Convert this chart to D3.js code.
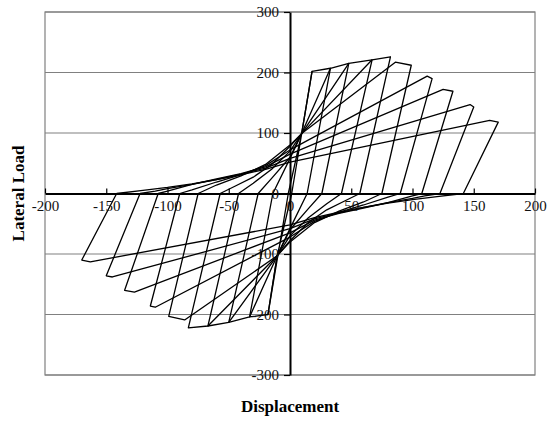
<!DOCTYPE html>
<html>
<head>
<meta charset="utf-8">
<script src="https://cdn.jsdelivr.net/npm/d3@7"></script>
<style>
  html, body { margin: 0; padding: 0; background: #fff; }
  svg { display: block; }
</style>
</head>
<body>
<svg id="chart" width="550" height="421"></svg>
<script>
// Tick labels
const xTicks = [-200, -150, -100, -50, 0, 50, 100, 150, 200];
const yTicks = [-300, -200, -100, 0, 100, 200, 300];
const gridValues = [-300, -200, -100, 100, 200, 300];

// Hysteresis loops: [displacement, lateral load]
const loop1 = [[-1.4,0],[9.5,99],[18,202],[1.4,0],[-10.5,-103],[-18,-200],[-1.4,0]];
const loop2 = [[-14,0],[0,58],[9.5,99],[18,202],[33,207],[14,0],[0,-58],[-10.5,-103],[-18,-200],[-33,-204],[-14,0]];
const loop3 = [[-26,0],[-15,25],[0,60],[9.5,99],[33,207],[48,215],[26,0],[15,-25],[0,-60],[-10.5,-103],[-33,-204],[-50,-213],[-26,0]];
const loop4 = [[-42,0],[-30,17],[-15,40],[0,70],[9.5,99],[48,215],[67,221],[42,0],[30,-17],[15,-40],[0,-70],[-10.5,-103],[-50,-213],[-67,-219],[-42,0]];
const loop5 = [[-57,0],[-45,12],[-30,27],[-15,48],[0,78],[9.5,99],[67,221],[82,226],[57,0],[45,-12],[30,-27],[15,-48],[0,-78],[-10.5,-103],[-67,-219],[-83,-222],[-57,0]];
const loop6 = [[-75,0],[-60,14],[-40,29],[-20,48],[0,80],[9.5,99],[86,217],[99,212],[75,0],[60,-14],[40,-29],[20,-48],[0,-80],[-10.5,-103],[-86,-209],[-99,-203],[-75,0]];
const loop7 = [[-90,0],[-80,6],[-60,19],[-40,31],[-20,46],[0,72],[112,194],[116,190],[90,0],[80,-6],[60,-19],[40,-31],[20,-46],[0,-72],[-110,-188],[-114,-186],[-90,0]];
const loop8 = [[-107.6,0],[-100,4],[-80,15],[-60,24],[-40,33],[-20,44],[0,65],[125,172],[133,169],[107.6,0],[100,-4],[80,-15],[60,-24],[40,-33],[20,-44],[0,-65],[-127,-163],[-135,-160],[-107.6,0]];
const loop9 = [[-122.4,0],[-110,4],[-100,8],[-80,15],[-60,23],[-40,32],[-20,42],[0,58],[147,147],[150,143],[122.4,0],[110,-4],[100,-8],[80,-15],[60,-23],[40,-32],[20,-42],[0,-58],[-145,-138],[-150,-136],[-122.4,0]];
const loop10 = [[-141.5,0],[-120,5],[-100,10],[-80,16],[-60,23],[-40,31],[-20,40],[0,52],[163,121],[170,118],[141.5,0],[120,-5],[100,-10],[80,-16],[60,-23],[40,-31],[20,-40],[0,-52],[-163,-113],[-170,-110],[-141.5,0]];
const loops = [loop1, loop2, loop3, loop4, loop5, loop6, loop7, loop8, loop9, loop10];

const xTitle = "Displacement";
const yTitle = "Lateral Load";

const svg = d3.select("#chart");
const plot = { left: 45, right: 535, top: 12, bottom: 375 };

const x = d3.scaleLinear().domain([-200, 200]).range([plot.left, plot.right]);
const y = d3.scaleLinear().domain([-300, 300]).range([plot.bottom, plot.top]);

const font = "'Liberation Serif', 'Times New Roman', serif";

// Plot border
svg.append("rect")
  .attr("x", x(-200)).attr("y", y(300))
  .attr("width", x(200) - x(-200)).attr("height", y(-300) - y(300))
  .attr("fill", "none").attr("stroke", "#808080").attr("stroke-width", 1.2);

// Horizontal gridlines
svg.append("g").selectAll("line").data(gridValues).join("line")
  .attr("x1", x(-200)).attr("x2", x(200))
  .attr("y1", d => y(d)).attr("y2", d => y(d))
  .attr("stroke", "#808080").attr("stroke-width", 1.2);

// Data loops
const line = d3.line().x(d => x(d[0])).y(d => y(d[1]));
svg.append("g").selectAll("path").data(loops).join("path")
  .attr("d", line)
  .attr("fill", "none")
  .attr("stroke", "#000")
  .attr("stroke-width", 1.3)
  .attr("stroke-linejoin", "round");

// X axis through y = 0
const xAxis = d3.axisBottom(x).tickValues(xTicks).tickSize(-5).tickSizeOuter(0).tickPadding(7)
  .tickFormat(d => String(d));
const gx = svg.append("g").attr("transform", `translate(0,${y(0)})`).call(xAxis);
gx.select(".domain").attr("stroke", "#000").attr("stroke-width", 2);
gx.selectAll(".tick line").attr("stroke", "#000").attr("stroke-width", 1.2);
gx.selectAll(".tick text").attr("font-family", font).attr("font-size", 15).attr("fill", "#111");

// Y axis through x = 0
const yAxis = d3.axisLeft(y).tickValues(yTicks).tickSize(6).tickSizeOuter(0).tickPadding(5)
  .tickFormat(d => String(d));
const gy = svg.append("g").attr("transform", `translate(${x(0)},0)`).call(yAxis);
gy.select(".domain").attr("stroke", "#000").attr("stroke-width", 2);
gy.selectAll(".tick line").attr("stroke", "#000").attr("stroke-width", 1.2);
gy.selectAll(".tick text").attr("font-family", font).attr("font-size", 15).attr("fill", "#111");

// Axis titles
svg.append("text")
  .attr("x", x(0)).attr("y", 412)
  .attr("text-anchor", "middle")
  .attr("font-family", font).attr("font-weight", "bold").attr("font-size", 17)
  .text(xTitle);

svg.append("text")
  .attr("transform", `translate(24,${(plot.top + plot.bottom) / 2}) rotate(-90)`)
  .attr("text-anchor", "middle")
  .attr("font-family", font).attr("font-weight", "bold").attr("font-size", 17)
  .text(yTitle);
</script>
</body>
</html>
